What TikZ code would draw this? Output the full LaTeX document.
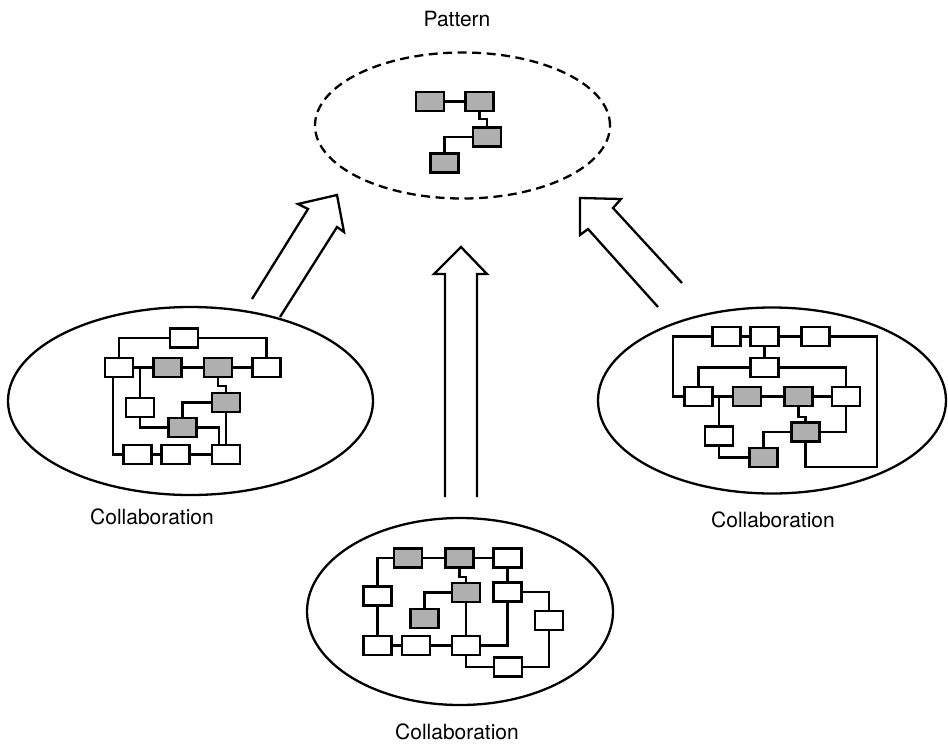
\documentclass[tikz,border=0pt]{standalone}
\usepackage{fontspec}
\setmainfont{TeX Gyre Heros}
\usetikzlibrary{shapes.geometric,backgrounds}
\definecolor{boxgray}{HTML}{AFAFAF}
\tikzset{
  wbox/.style={draw=black, fill=white, line width=2.6pt, inner sep=0pt, minimum width=28pt, minimum height=19pt},
  gbox/.style={wbox, fill=boxgray},
  conn/.style={draw=black, line width=2.2pt},
  collab/.style={ellipse, draw=black, line width=2.3pt, inner sep=0pt},
  patt/.style={ellipse, draw=black, line width=2.3pt, inner sep=0pt, dash pattern=on 9pt off 5.5pt},
  bigarrow/.style={draw=black, line width=2.3pt, line join=miter},
  lbl/.style={inner sep=0pt, font=\fontsize{21}{25}\selectfont}
}
\begin{document}
\begin{tikzpicture}[x=1pt,y=-1pt]
\useasboundingbox (0,0) rectangle (948,745);

% ellipses
\node[patt, minimum width=295pt, minimum height=146pt] (pat) at (462.5,125.5) {};
\node[collab, minimum width=365pt, minimum height=188pt] (cl) at (190.5,401) {};
\node[collab, minimum width=348pt, minimum height=186pt] (cr) at (772,400.5) {};
\node[collab, minimum width=306pt, minimum height=187pt] (cb) at (460,611.5) {};

% labels
\node[lbl] (tpat) at (457,19) {Pattern};
\node[lbl] (tl) at (152,517) {Collaboration};
\node[lbl] (tr) at (773,520) {Collaboration};
\node[lbl] (tb) at (457,732) {Collaboration};

% pattern boxes
\node[gbox] (P-1) at (430,101.5) {};
\node[gbox] (P-2) at (479.5,101.5) {};
\node[gbox] (P-3) at (487,137) {};
\node[gbox] (P-4) at (444.5,163) {};

% left collaboration
\node[wbox] (L-T) at (184,338) {};
\node[wbox] (L-A) at (119,367.5) {};
\node[gbox] (L-B) at (167.5,367.5) {};
\node[gbox] (L-C) at (218,367.5) {};
\node[wbox] (L-D) at (266.5,367.5) {};
\node[wbox] (L-E) at (140,407.5) {};
\node[gbox] (L-F) at (226,402.5) {};
\node[gbox] (L-G) at (182.5,427.5) {};
\node[wbox] (L-H) at (137.5,454.5) {};
\node[wbox] (L-I) at (175.5,454.5) {};
\node[wbox] (L-J) at (226,454.5) {};

% right collaboration
\node[wbox] (R-P1) at (726.5,336.5) {};
\node[wbox] (R-P2) at (764.5,336.5) {};
\node[wbox] (R-P3) at (815.5,336.5) {};
\node[wbox] (R-Q) at (764.5,367.5) {};
\node[wbox] (R-R1) at (698.5,396.5) {};
\node[gbox] (R-R2) at (747,396.5) {};
\node[gbox] (R-R3) at (798.5,396.5) {};
\node[wbox] (R-R4) at (846,396.5) {};
\node[wbox] (R-S) at (719,436) {};
\node[gbox] (R-U) at (805.5,432) {};
\node[gbox] (R-V) at (763.5,457.5) {};

% bottom collaboration
\node[gbox] (B-K1) at (408,558) {};
\node[gbox] (B-K2) at (459.5,558) {};
\node[wbox] (B-K3) at (507.5,558) {};
\node[wbox] (B-L1) at (377.5,596) {};
\node[gbox] (B-L2) at (466,592.5) {};
\node[wbox] (B-L3) at (507.5,592) {};
\node[gbox] (B-M) at (424.5,618.5) {};
\node[wbox] (B-N) at (549,620.5) {};
\node[wbox] (B-O1) at (377.5,645.5) {};
\node[wbox] (B-O2) at (416,645.5) {};
\node[wbox] (B-O3) at (466,645.5) {};
\node[wbox] (B-W) at (508,667) {};

\begin{pgfonlayer}{background}
% pattern
\draw[conn] (P-1) -- (P-2);
\draw[conn] (P-2) -- (P-2 |- 0,119) -| (P-3);
\draw[conn] (P-3) -| (P-4);
% left
\draw[conn] (L-T) -| (L-A);
\draw[conn] (L-T) -| (L-D);
\draw[conn] (L-A) -- (L-B) -- (L-C) -- (L-D);
\draw[conn] (L-E) -- (L-E |- L-A);
\draw[conn] (113,0 |- L-A) |- (L-H);
\draw[conn] (L-C) -- (L-C |- 0,386) -| (L-F);
\draw[conn] (L-F) -| (L-G);
\draw[conn] (L-E) |- (L-G);
\draw[conn] (L-G) -| (219,0 |- L-J);
\draw[conn] (L-F) -- (L-F |- L-J);
\draw[conn] (L-H) -- (L-I) -- (L-J);
% right
\draw[conn] (R-P1) -- (R-P2) -- (R-P3);
\draw[conn] (R-P1) -- (673,0 |- R-P1) -- (673,0 |- R-R1) -- (R-R1);
\draw[conn] (R-P3) -- (877,0 |- R-P3) -- (877,467) -| (R-U);
\draw[conn] (R-P2) -- (R-Q);
\draw[conn] (R-Q) -| (R-R1);
\draw[conn] (R-Q) -| (R-R4);
\draw[conn] (R-R1) -- (R-R2) -- (R-R3) -- (R-R4);
\draw[conn] (R-S) -- (R-S |- R-R1);
\draw[conn] (R-S) |- (R-V);
\draw[conn] (R-R3) -- (R-R3 |- 0,417) -| (R-U);
\draw[conn] (R-U) -| (R-V);
\draw[conn] (R-U) -| (R-R4);
% bottom
\draw[conn] (B-K1) -| (B-L1);
\draw[conn] (B-K1) -- (B-K2) -- (B-K3);
\draw[conn] (B-K2) -- (B-K2 |- 0,577) -| (B-L2);
\draw[conn] (B-K3) -- (B-L3);
\draw[conn] (B-L2) -| (B-M);
\draw[conn] (B-L2) -- (B-O3);
\draw[conn] (B-L3) -| (B-N);
\draw[conn] (B-L3) |- (B-O3);
\draw[conn] (B-L1) -- (B-O1);
\draw[conn] (B-O1) -- (B-O2) -- (B-O3);
\draw[conn] (B-O3) |- (B-W);
\draw[conn] (B-W) -| (B-N);
\end{pgfonlayer}

% big hollow arrows
\coordinate (aLs1) at (252,299);
\coordinate (aLs2) at (280,317);
\coordinate (aLtip) at (337,195);
\draw[bigarrow] (aLs1) -- (308,209) -- (298,204) -- (aLtip) -- (344,232) -- (337,227) -- (aLs2);

\coordinate (aRs1) at (682,283);
\coordinate (aRs2) at (658,307);
\coordinate (aRtip) at (580,198);
\draw[bigarrow] (aRs1) -- (613,208) -- (621,199) -- (aRtip) -- (580,235) -- (588,229) -- (aRs2);

\coordinate (aBs1) at (445,497);
\coordinate (aBs2) at (477,497);
\coordinate (aBtip) at (461,247);
\draw[bigarrow] (aBs1) -- (445,274) -- (434,274) -- (aBtip) -- (487,274) -- (477,274) -- (aBs2);

\end{tikzpicture}
\end{document}
